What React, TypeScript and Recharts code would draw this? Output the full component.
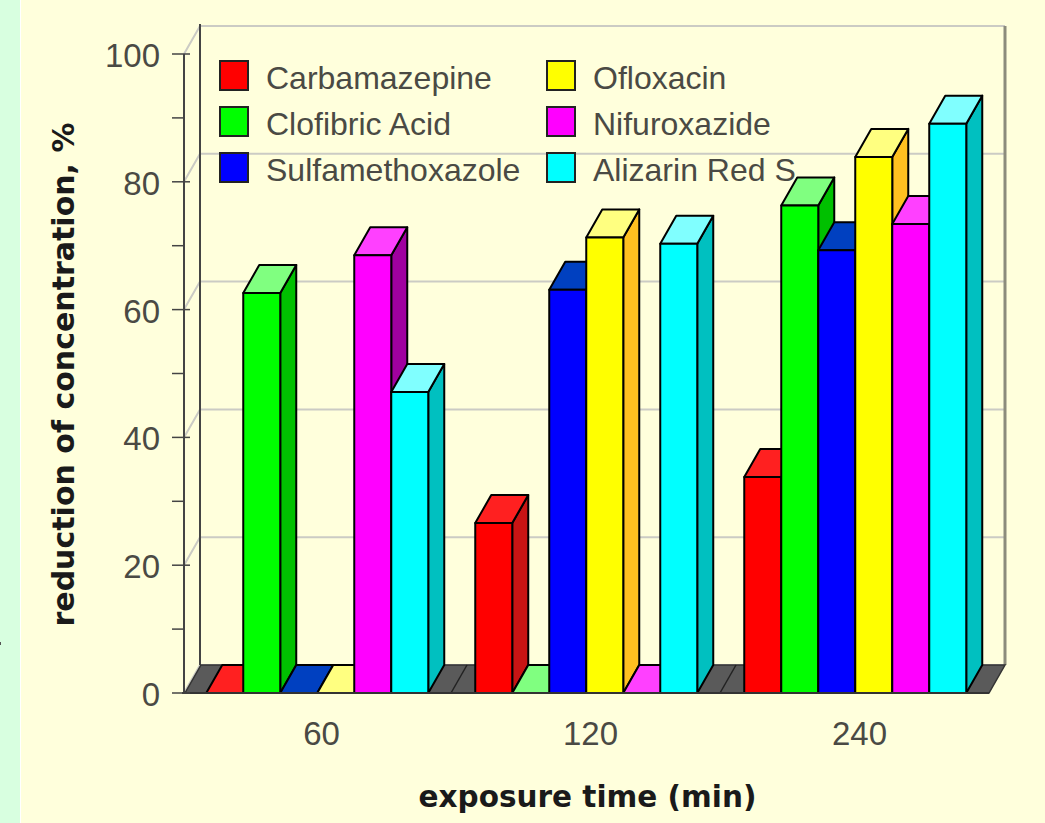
import { BarChart, Bar, XAxis, YAxis, CartesianGrid, Legend, ReferenceArea } from "recharts";

const categories = ["60", "120", "240"];
const carbamazepine = [0, 26.6, 33.8];
const clofibricAcid = [62.6, 0, 76.3];
const sulfamethoxazole = [0, 63.1, 69.3];
const ofloxacin = [0, 71.3, 83.9];
const nifuroxazide = [68.5, 0, 73.4];
const alizarinRedS = [47.1, 70.3, 89.1];
const yTicks = [0, 10, 20, 30, 40, 50, 60, 70, 80, 90, 100];
const gridValues = [0, 20, 40, 60, 80, 100];

const series = [
  { name: "Carbamazepine", values: carbamazepine, front: "#ff0000", top: "#ff2020", side: "#c81414" },
  { name: "Clofibric Acid", values: clofibricAcid, front: "#00ff00", top: "#80ff80", side: "#00c000" },
  { name: "Sulfamethoxazole", values: sulfamethoxazole, front: "#0000ff", top: "#0040c0", side: "#0000b0" },
  { name: "Ofloxacin", values: ofloxacin, front: "#ffff00", top: "#ffff80", side: "#ffc020" },
  { name: "Nifuroxazide", values: nifuroxazide, front: "#ff00ff", top: "#ff40ff", side: "#a000a0" },
  { name: "Alizarin Red S", values: alizarinRedS, front: "#00ffff", top: "#80ffff", side: "#00c0c0" },
];

const data = categories.map((time, i) => {
  const row: Record<string, string | number> = { time };
  series.forEach((s) => {
    row[s.name] = s.values[i];
  });
  return row;
});

// depth of the 3D projection
const DX = 16;
const DY = -28;
// the axis and floor start a little right of the first category band
const INSET = 3;
const TEXT = "#4a4a44";
const SANS = "'Liberation Sans', Arial, sans-serif";
const BOLD = "'DejaVu Sans', sans-serif";

const Box3D = ({ x, y, width, height, front, top, side }: any) => (
  <g stroke="#000" strokeWidth={2} strokeLinejoin="round">
    <path
      d={`M${x + width} ${y} l${DX} ${DY} v${height} l${-DX} ${-DY} Z`}
      fill={side}
    />
    <path
      d={`M${x} ${y} l${DX} ${DY} h${width} l${-DX} ${-DY} Z`}
      fill={top}
    />
    <rect x={x} y={y} width={width} height={height} fill={front} />
  </g>
);

// back walls and floor behind the bars
const Walls = ({ x, y, width, height }: any) => {
  const bottom = y + height;
  const left = x + INSET;
  const right = x + width;
  const groupWidth = width / categories.length;
  return (
    <g fill="none">
      <path d={`M${right + DX} ${y + DY} V${bottom + DY}`} stroke="#8c8c7c" strokeWidth={3} />
      <path d={`M${left + DX - 1} ${y + DY - 2} V${bottom + DY}`} stroke="#444" strokeWidth={2} />
      <path d={`M${left - 1} ${y} V${bottom}`} stroke="#444" strokeWidth={2} />
      <path
        d={`M${left} ${bottom} H${right} l${DX} ${DY} H${left + DX} Z`}
        fill="#5a5a5a"
        stroke="#333"
        strokeWidth={1.5}
      />
      {categories.slice(1).map((c, i) => (
        <path
          key={c}
          d={`M${x + groupWidth * (i + 1)} ${bottom} l${DX} ${DY}`}
          stroke="#222"
          strokeWidth={1.5}
        />
      ))}
    </g>
  );
};

const gridLine = ({ x1, x2, y1 }: any) => (
  <path
    key={y1}
    d={`M${x1 + INSET - 1} ${y1} l${DX} ${DY} L${x2 + DX} ${y1 + DY}`}
    fill="none"
    stroke="#cbcbc4"
    strokeWidth={2}
  />
);

const ValueTick = ({ y, payload }: any) => {
  const major = payload.value % 20 === 0;
  return (
    <g>
      <path d={`M172 ${y} H${major ? 190 : 184}`} stroke="#444" strokeWidth={1.5} />
      {major && (
        <text x={160} y={y + 13} textAnchor="end" fontSize={33} fontFamily={SANS} fill={TEXT}>
          {payload.value}
        </text>
      )}
    </g>
  );
};

const LegendBlock = () => (
  <div
    style={{
      display: "grid",
      gridTemplateRows: "repeat(3, 46px)",
      gridAutoFlow: "column",
      gridTemplateColumns: "327px 300px",
      fontFamily: SANS,
      fontSize: 32,
      color: TEXT,
    }}
  >
    {series.map((s) => (
      <div key={s.name} style={{ display: "flex", alignItems: "center", whiteSpace: "nowrap" }}>
        <span
          style={{
            width: 26,
            height: 27,
            background: s.front,
            border: "2px solid #222",
            marginRight: 17,
          }}
        />
        <span style={{ position: "relative", top: 3 }}>{s.name}</span>
      </div>
    ))}
  </div>
);

export default function App() {
  return (
    <div
      style={{
        position: "absolute",
        left: 0,
        top: 0,
        width: 1045,
        height: 823,
        background: "#ffffdc",
        overflow: "hidden",
      }}
    >
      <div
        style={{
          position: "absolute",
          left: 0,
          top: 0,
          width: 20,
          height: 823,
          background: "#d8ffe0",
          borderRight: "1px solid #fff",
        }}
      />
      <div
        style={{
          position: "absolute",
          left: 0,
          top: 642,
          width: 1,
          height: 3,
          background: "#555",
        }}
      />
      <BarChart
        width={1045}
        height={823}
        data={data}
        margin={{ top: 54, right: 56, bottom: 0, left: 0 }}
        barCategoryGap={24.25}
        barGap={0}
        style={{ position: "absolute", left: 0, top: 0 }}
      >
        <CartesianGrid vertical={false} horizontalValues={gridValues} horizontal={gridLine} />
        <ReferenceArea y1={0} y2={100} shape={<Walls />} ifOverflow="visible" />
        <XAxis
          dataKey="time"
          height={130}
          tickLine={false}
          axisLine={{ stroke: "#333", strokeWidth: 2 }}
          tick={{ fontSize: 33, fontFamily: SANS, fill: TEXT, dx: 5, dy: 21 }}
          label={{
            value: "exposure time (min)",
            position: "insideBottom",
            offset: 16,
            dx: 2,
            style: { fontSize: 29.5, fontWeight: 700, fontFamily: BOLD, fill: "#1a1a1a" },
          }}
        />
        <YAxis
          width={182}
          domain={[0, 100]}
          ticks={yTicks}
          interval={0}
          tickLine={false}
          axisLine={false}
          tick={<ValueTick />}
          label={{
            value: "reduction of concentration, %",
            angle: -90,
            position: "insideLeft",
            offset: 63,
            dy: 253,
            style: { fontSize: 30, fontWeight: 700, fontFamily: BOLD, fill: "#1a1a1a" },
          }}
        />
        <Legend
          layout="horizontal"
          verticalAlign="middle"
          align="center"
          content={<LegendBlock />}
          wrapperStyle={{ left: 219, top: 52, width: 640, bottom: "auto" }}
        />
        {series.map((s) => (
          <Bar
            key={s.name}
            dataKey={s.name}
            fill={s.front}
            isAnimationActive={false}
            shape={<Box3D front={s.front} top={s.top} side={s.side} />}
          />
        ))}
      </BarChart>
    </div>
  );
}
